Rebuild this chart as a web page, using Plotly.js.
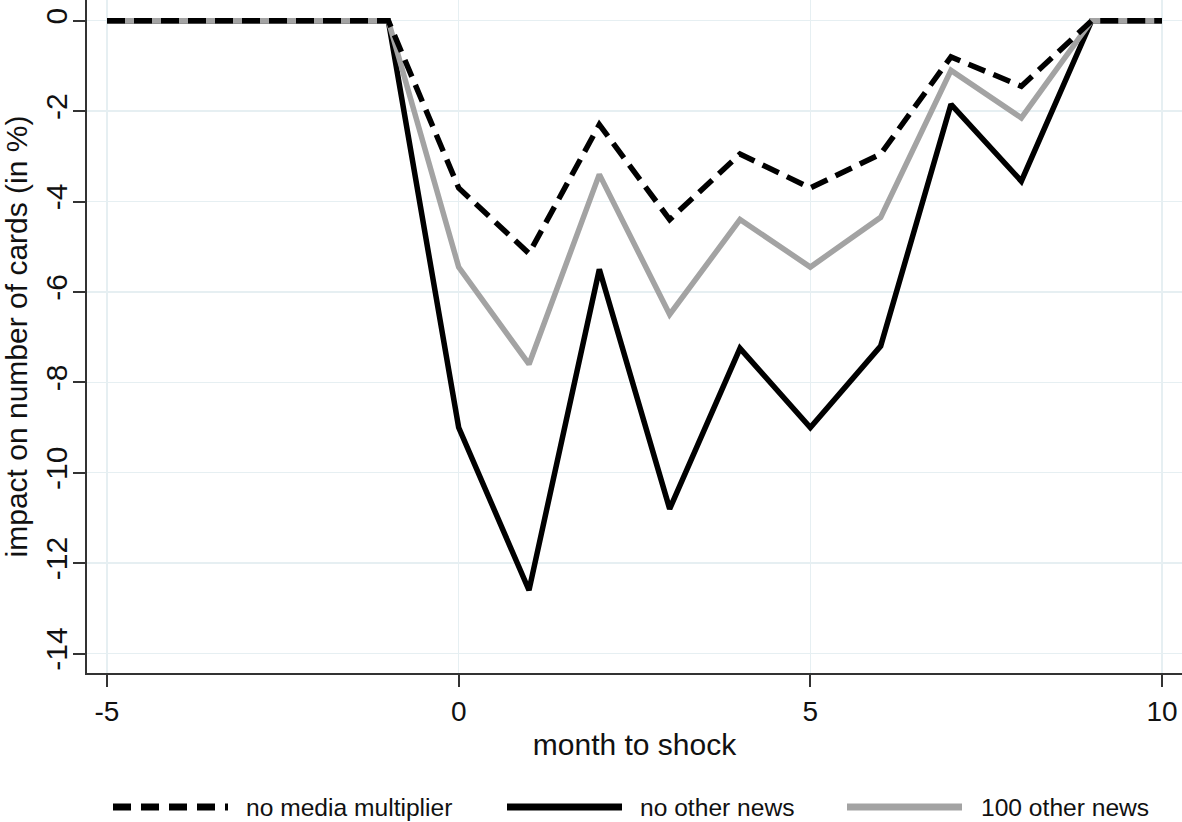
<!DOCTYPE html>
<html>
<head>
<meta charset="utf-8">
<script src="https://cdn.plot.ly/plotly-3.0.1.min.js"></script>
<style>html,body{margin:0;padding:0;background:#fff;}#chart{width:1182px;height:822px;}</style>
</head>
<body>
<div id="chart"></div>
<script>
// ---- data ----
var months = [-5, -4, -3, -2, -1, 0, 1, 2, 3, 4, 5, 6, 7, 8, 9, 10];
var noMediaMultiplier = [0, 0, 0, 0, 0, -3.7, -5.15, -2.3, -4.4, -2.95, -3.7, -2.95, -0.8, -1.45, 0, 0];
var noOtherNews = [0, 0, 0, 0, 0, -9.0, -12.6, -5.5, -10.8, -7.25, -9.0, -7.2, -1.85, -3.55, 0, 0];
var otherNews100 = [0, 0, 0, 0, 0, -5.45, -7.6, -3.4, -6.5, -4.4, -5.45, -4.35, -1.1, -2.15, 0, 0];
var seriesNames = ["no media multiplier", "no other news", "100 other news"];
var xTicks = [-5, 0, 5, 10];
var yTicks = [0, -2, -4, -6, -8, -10, -12, -14];

// ---- styles ----
var FONT = "Liberation Sans, Arial, Helvetica, sans-serif";
var GRAY = "#a3a3a3";
var DASH = "18px,9px";
var L = 87, W = 1182, PLOT_B = 673, H = 822;
var plotW = W - L, plotH = PLOT_B;
function px2x(p) { return (p - L) / plotW; }
function px2y(p) { return (PLOT_B - p) / plotH; }

var traces = [
  { x: months, y: noOtherNews, name: seriesNames[1], mode: "lines", type: "scatter",
    line: { color: "#000000", width: 5.5 }, showlegend: false },
  { x: months, y: otherNews100, name: seriesNames[2], mode: "lines", type: "scatter",
    line: { color: GRAY, width: 5.5 }, showlegend: false },
  { x: months, y: noMediaMultiplier, name: seriesNames[0], mode: "lines", type: "scatter",
    line: { color: "#000000", width: 5.5, dash: DASH }, showlegend: false }
];

// custom legend (long line samples, as in the reference)
var legY = px2y(807);
var legItems = [
  { x0: 113, x1: 228, tx: 244, color: "#000000", dash: "18px,10px", name: seriesNames[0] },
  { x0: 507, x1: 622, tx: 638, color: "#000000", dash: "solid", name: seriesNames[1] },
  { x0: 847, x1: 962, tx: 979, color: GRAY, dash: "solid", name: seriesNames[2] }
];
var shapes = [], annotations = [];
legItems.forEach(function (it) {
  shapes.push({ type: "line", xref: "paper", yref: "paper",
    x0: px2x(it.x0), x1: px2x(it.x1), y0: legY, y1: legY,
    line: { color: it.color, width: 7, dash: it.dash } });
  annotations.push({ xref: "paper", yref: "paper", x: px2x(it.tx), y: legY,
    xanchor: "left", yanchor: "middle", showarrow: false, text: it.name,
    font: { family: FONT, size: 24.6, color: "#111" } });
});

var pxPerX = (1162 - 107) / 15;
var pxPerY = (653.5 - 20.7) / 14;

var layout = {
  width: W, height: H,
  margin: { l: L, r: 0, t: 0, b: H - PLOT_B, pad: 0 },
  paper_bgcolor: "#ffffff", plot_bgcolor: "#ffffff",
  showlegend: false,
  font: { family: FONT, color: "#111" },
  xaxis: {
    range: [-5 - (107 - L) / pxPerX, 10 + (W - 1162) / pxPerX],
    tickvals: xTicks, ticktext: xTicks.map(String),
    showgrid: true, gridcolor: "#e6eff2", gridwidth: 1.5,
    zeroline: false, showline: true, linecolor: "#333", linewidth: 2,
    ticks: "outside", ticklen: 12, tickwidth: 2, tickcolor: "#333",
    tickfont: { family: FONT, size: 28, color: "#111" },
    title: { text: "month to shock", font: { family: FONT, size: 30, color: "#111" }, standoff: 8 },
    automargin: false, fixedrange: true
  },
  yaxis: {
    range: [-(PLOT_B - 20.7) / pxPerY, 20.7 / pxPerY],
    tickvals: yTicks, ticktext: yTicks.map(String), tickangle: -90,
    showgrid: true, gridcolor: "#e6eff2", gridwidth: 1.5,
    zeroline: false, showline: true, linecolor: "#333", linewidth: 2,
    ticks: "outside", ticklen: 12, tickwidth: 2, tickcolor: "#333",
    tickfont: { family: FONT, size: 30, color: "#111" },
    ticklabelstandoff: -6,
    title: { text: "impact on number of cards (in %)", font: { family: FONT, size: 30, color: "#111" }, standoff: 6 },
    automargin: false, fixedrange: true
  },
  shapes: shapes,
  annotations: annotations
};

Plotly.newPlot("chart", traces, layout, { displayModeBar: false, staticPlot: true });
</script>
</body>
</html>
